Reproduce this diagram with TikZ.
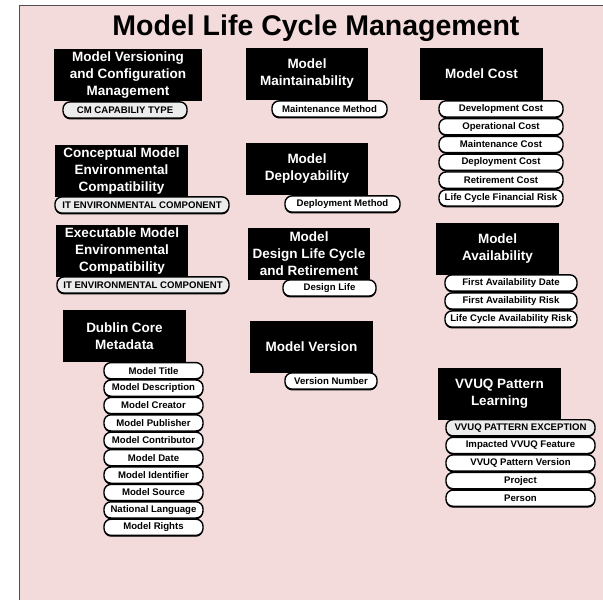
\documentclass[tikz,border=0pt]{standalone}
\usepackage{fontspec}
\setmainfont{Liberation Sans}
\usetikzlibrary{positioning, shadows}
\definecolor{PanelPink}{RGB}{242, 219, 218}
\definecolor{PanelEdge}{RGB}{80, 80, 80}
\definecolor{AttrGray}{RGB}{236, 236, 236}

\begin{document}
\begin{tikzpicture}[x=1pt, y=1pt,
          hdr/.style={fill=black, text=white, align=center, inner sep=1pt,
                      minimum width=123, minimum height=52,
                      font=\fontsize{13.5}{17}\selectfont\bfseries},
          attr/.style={draw, fill=white, rounded corners=7pt, line width=1.4pt,
                       minimum height=16.2, inner xsep=1pt, inner ysep=0pt,
                       font=\fontsize{9.6}{11}\selectfont\bfseries,
                       drop shadow={shadow xshift=0pt, shadow yshift=-1.3pt,
                                    fill=black, opacity=1}},
          attrg/.style={attr, fill=AttrGray}
        ]
        \useasboundingbox (0,0) rectangle (603,-600);
        % panel, only left and top edges are visible
        \fill[PanelPink] (19,-5) rectangle (603,-600);
        \draw[PanelEdge, line width=1pt] (19,-600) -- (19,-5) -- (603,-5);

        \node[font=\fontsize{28.5}{32}\selectfont\bfseries] (title) at (316,-28)
              {Model Life Cycle Management};

        % left column
        \node[hdr, minimum width=148] (vcm) at (128,-75)
              {Model Versioning\\and Configuration\\Management};
        \node[attrg, minimum width=124] (cmtype) at (125,-110) {CM CAPABILIY TYPE};

        \node[hdr, minimum width=133] (cmec) at (121.5,-171)
              {Conceptual Model\\Environmental\\Compatibility};
        \node[attrg, minimum width=174] (cmecit) at (142,-205) {IT ENVIRONMENTAL COMPONENT};

        \node[hdr, minimum width=132] (emec) at (122,-251)
              {Executable Model\\Environmental\\Compatibility};
        \node[attrg, minimum width=172] (emecit) at (143,-285) {IT ENVIRONMENTAL COMPONENT};

        \node[hdr] (dcm) at (124.5,-336) {Dublin Core\\Metadata};
        \foreach \txt [count=\i] in {Model Title, Model Description, Model Creator,
              Model Publisher, Model Contributor, Model Date, Model Identifier,
              Model Source, National Language, Model Rights}
          \node[attr, minimum width=99] (dc\i) at (153.5,-362-17.4*\i+8.7) {\txt};

        % middle column
        \node[hdr, minimum width=122] (maint) at (307,-74) {Model\\Maintainability};
        \node[attr, minimum width=115] (maintm) at (329.5,-109) {Maintenance Method};

        \node[hdr, minimum width=122] (depl) at (307,-169) {Model\\Deployability};
        \node[attr, minimum width=115] (deplm) at (342.5,-204) {Deployment Method};

        \node[hdr, minimum width=122] (dlcr) at (309,-254)
              {Model\\Design Life Cycle\\and Retirement};
        \node[attr, minimum width=93] (dlife) at (329.5,-288) {Design Life};

        \node[hdr] (mver) at (311.5,-347) {Model Version};
        \node[attr, minimum width=92] (vnum) at (331,-381) {Version Number};

        % right column
        \node[hdr] (cost) at (481.5,-74) {Model Cost};
        \foreach \txt [count=\i] in {Development Cost, Operational Cost,
              Maintenance Cost, Deployment Cost, Retirement Cost,
              Life Cycle Financial Risk}
          \node[attr, minimum width=124] (cost\i) at (501,-100-17.8*\i+8.9) {\txt};

        \node[hdr] (avail) at (497.5,-248.5) {Model\\Availability};
        \foreach \txt [count=\i] in {First Availability Date, First Availability Risk,
              Life Cycle Availability Risk}
          \node[attr, minimum width=132] (avail\i) at (511,-274-18*\i+9) {\txt};

        \node[hdr] (vvuq) at (499.5,-393.5) {VVUQ Pattern\\Learning};
        \node[attrg, minimum width=149] (vvuq1) at (520.5,-427.8) {VVUQ PATTERN EXCEPTION};
        \foreach \txt [count=\i from 2] in {Impacted VVUQ Feature, VVUQ Pattern Version,
              Project, Person}
          \node[attr, minimum width=149] (vvuq\i) at (520.5,-419-17.6*\i+8.8) {\txt};
      \end{tikzpicture}
\end{document}
